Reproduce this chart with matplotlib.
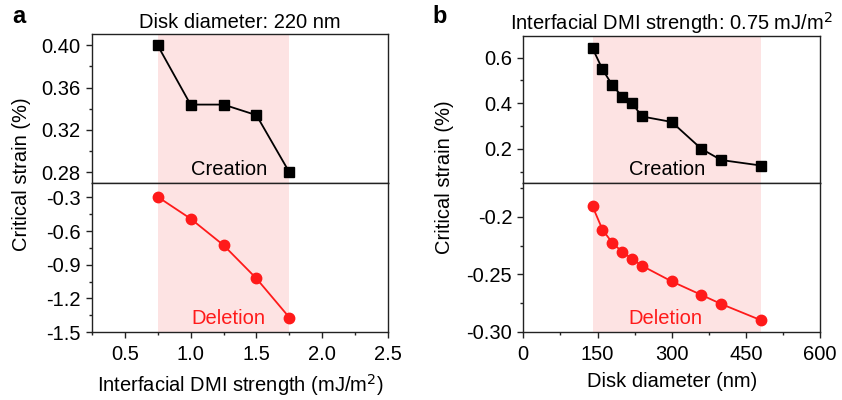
import matplotlib
matplotlib.use("Agg")
import matplotlib.pyplot as plt
from matplotlib.ticker import FixedLocator, MultipleLocator

plt.rcParams['font.family'] = ['Liberation Sans', 'DejaVu Sans']
plt.rcParams['axes.unicode_minus'] = False

# ---- data: panel a ----
dmi = [0.75, 1.0, 1.25, 1.5, 1.75]
creation_a = [0.400, 0.344, 0.344, 0.334, 0.280]
deletion_a = [-0.295, -0.49, -0.726, -1.023, -1.371]
xticks_a = [0.5, 1.0, 1.5, 2.0, 2.5]
xtick_labels_a = ["0.5", "1.0", "1.5", "2.0", "2.5"]
ytop_ticks_a = [0.28, 0.32, 0.36, 0.40]
ytop_labels_a = ["0.28", "0.32", "0.36", "0.40"]
ybot_ticks_a = [-1.5, -1.2, -0.9, -0.6, -0.3]
ybot_labels_a = ["-1.5", "-1.2", "-0.9", "-0.6", "-0.3"]
shade_a = (0.75, 1.75)

# ---- data: panel b ----
diam = [140, 160, 180, 200, 220, 240, 300, 360, 400, 480]
creation_b = [0.641, 0.549, 0.479, 0.429, 0.400, 0.342, 0.318, 0.200, 0.151, 0.127]
deletion_b = [-0.1907, -0.211, -0.2226, -0.2304, -0.2365, -0.2426, -0.2562, -0.268, -0.2759, -0.290]
xticks_b = [0, 150, 300, 450, 600]
xtick_labels_b = ["0", "150", "300", "450", "600"]
ytop_ticks_b = [0.2, 0.4, 0.6]
ytop_labels_b = ["0.2", "0.4", "0.6"]
ybot_ticks_b = [-0.30, -0.25, -0.2]
ybot_labels_b = ["-0.30", "-0.25", "-0.2"]
shade_b = (140, 480)

SHADE = '#fde3e3'
RED = '#ff1a1a'
FS = 14.5

fig = plt.figure(figsize=(8.42, 4.0), dpi=100)


def style(ax):
    for s in ax.spines.values():
        s.set_linewidth(1.0)
        s.set_color('#222222')
    ax.tick_params(which='major', direction='out', length=4.5, width=1.0, labelsize=FS, colors='#222222')
    ax.tick_params(which='minor', direction='out', length=2.5, width=1.0, colors='#222222')
    ax.tick_params(labelcolor='black')


def panel(rect_top, rect_bot, x_c, y_c, x_d, y_d, xlim, ylim_t, ylim_b, shade,
          xt, xtl, xminor, ytt, yttl, ytminor, ybt, ybtl, ybminor,
          title, xlabel, creation_x, deletion_x):
    axt = fig.add_axes(rect_top)
    axb = fig.add_axes(rect_bot)
    for ax in (axt, axb):
        ax.axvspan(shade[0], shade[1], color=SHADE, lw=0, zorder=0)
        ax.set_xlim(*xlim)
        style(ax)
    axt.plot(x_c, y_c, color='black', lw=1.3, marker='s', ms=6.5, zorder=3)
    axb.plot(x_d, y_d, color=RED, lw=1.3, marker='o', ms=7.5, zorder=3)
    axt.set_ylim(*ylim_t)
    axb.set_ylim(*ylim_b)
    axt.set_xticks([])
    axt.tick_params(axis='x', which='both', bottom=False, labelbottom=False)
    axt.yaxis.set_major_locator(FixedLocator(ytt))
    axt.set_yticklabels(yttl)
    axt.yaxis.set_minor_locator(MultipleLocator(ytminor))
    axb.yaxis.set_major_locator(FixedLocator(ybt))
    axb.set_yticklabels(ybtl)
    axb.yaxis.set_minor_locator(MultipleLocator(ybminor))
    axb.xaxis.set_major_locator(FixedLocator(xt))
    axb.set_xticklabels(xtl)
    axb.xaxis.set_minor_locator(MultipleLocator(xminor))
    axb.tick_params(axis='x', which='major', pad=5)
    axt.set_title(title, fontsize=FS, pad=4)
    axb.set_xlabel(xlabel, fontsize=FS, labelpad=6)
    axt.text(creation_x, 0.025, 'Creation', transform=axt.get_xaxis_transform(),
             ha='center', va='bottom', fontsize=FS, color='black', zorder=4)
    axb.text(deletion_x, 0.025, 'Deletion', transform=axb.get_xaxis_transform(),
             ha='center', va='bottom', fontsize=FS, color=RED, zorder=4)
    return axt, axb


panel([0.109, 0.5425, 0.352, 0.3725], [0.109, 0.17, 0.352, 0.3725],
      dmi, creation_a, dmi, deletion_a, (0.25, 2.5), (0.2699, 0.4107), (-1.5, -0.172), shade_a,
      xticks_a, xtick_labels_a, 0.25, ytop_ticks_a, ytop_labels_a, 0.02,
      ybot_ticks_a, ybot_labels_a, 0.15,
      'Disk diameter: 220 nm', 'Interfacial DMI strength (mJ/m$^2$)', 1.29, 1.29)

panel([0.6215, 0.5435, 0.3525, 0.3665], [0.6215, 0.171, 0.3525, 0.3725],
      diam, creation_b, diam, deletion_b, (0, 600), (0.052, 0.695), (-0.30, -0.170), shade_b,
      xticks_b, xtick_labels_b, 75, ytop_ticks_b, ytop_labels_b, 0.1,
      ybot_ticks_b, ybot_labels_b, 0.025,
      'Interfacial DMI strength: 0.75 mJ/m$^2$', 'Disk diameter (nm)', 290, 288)

fig.text(22 / 842, 1 - 174 / 400, 'Critical strain (%)', rotation=90, ha='center', va='center', fontsize=FS)
fig.text(445 / 842, 1 - 177 / 400, 'Critical strain (%)', rotation=90, ha='center', va='center', fontsize=FS)
fig.text(12 / 842, 1 - 23 / 400, 'a', ha='left', va='baseline', fontsize=17, fontweight='bold')
fig.text(432 / 842, 1 - 23 / 400, 'b', ha='left', va='baseline', fontsize=17, fontweight='bold')

fig.savefig('out.png', dpi=100)
